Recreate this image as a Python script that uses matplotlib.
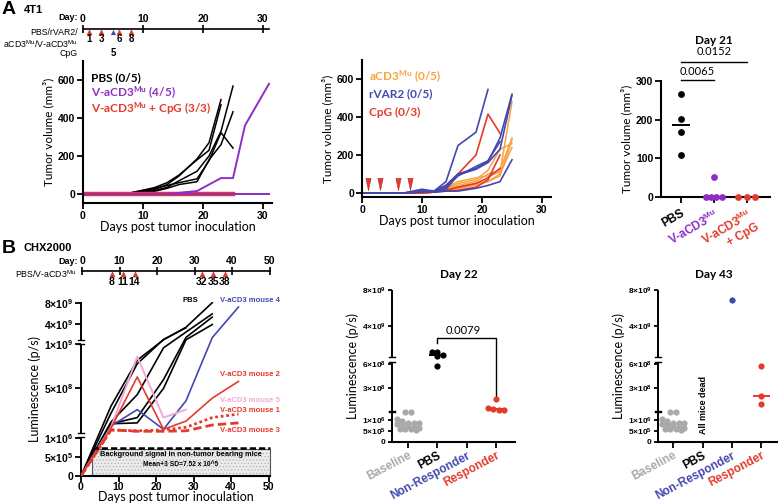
import numpy as np
import matplotlib
matplotlib.use("Agg")
import matplotlib.pyplot as plt
from matplotlib.patches import Rectangle
from matplotlib.path import Path
from matplotlib.transforms import blended_transform_factory as btf

plt.rcParams['mathtext.default'] = 'regular'
plt.rcParams['hatch.color'] = '#b8b8b8'
plt.rcParams['hatch.linewidth'] = 0.6
nan = np.nan

# ---------------- data ----------------
# Panel A (4T1) tumour volume, mm^3
a_days = [0, 7, 10, 12, 14, 16, 19, 21, 23, 25]
pbs_a = [
    [0, 0, 10, 20, 35, 70, 120, 200, 330, 568],
    [0, 0, 15, 25, 50, 95, 185, 270, 497, nan],
    [0, 0, 20, 30, 45, 60, 80, 175, 323, 242],
    [0, 0, 5, 15, 30, 50, 65, 180, 260, 433],
    [0, 0, 20, 35, 60, 100, 180, 230, 470, nan],
]
vacd3_days = [0, 14, 19, 23, 25, 27, 31]
vacd3_grow = [0, 0, 16, 84, 84, 361, 580]
vacd3_cured_days = [0, 31]
vacd3_cured = [[0, 0], [0, 0], [0, 0], [0, 0]]
cpg_combo_days = [0, 25]
cpg_combo = [[0, 0], [0, 0], [0, 0]]

acd3_a = [
    [0, 0, 0, 5, 20, 40, 60, 100, 120, 290],
    [0, 0, 0, 5, 25, 50, 70, 120, 230, 260],
    [0, 0, 5, 10, 30, 60, 80, 90, 110, 480],
    [0, 0, 0, 5, 20, 35, 50, 60, 100, 240],
    [0, 0, 0, 5, 15, 25, 40, 60, 90, 280],
]
rvar2_a = [
    [0, 0, 20, 10, 60, 250, 320, 545, nan, nan],
    [0, 0, 5, 10, 40, 100, 130, 165, 290, 520],
    [0, 0, 15, 5, 20, 95, 125, 160, 230, 515],
    [0, 0, 10, 5, 10, 10, 25, 40, 60, 175],
    [0, 0, 5, 10, 30, 90, 140, 170, 270, nan],
]
cpg_a = [
    [0, 0, 5, 10, 40, 100, 200, 415, 315, nan],
    [0, 0, 0, 5, 10, 15, 30, 70, 200, nan],
    [0, 0, 0, 5, 15, 30, 50, 80, 130, nan],
]
a_dose_days = [1, 3, 6, 8]
a_cpg_day = [5]
a2_arrow_level = [50, 50, 50, 50]

day21_groups = ['PBS', 'V-aCD3$^{Mu}$', 'V-aCD3$^{Mu}$\n+ CpG']
day21_pbs = [267, 202, 168, 109]
day21_vacd3 = [51, 0, 0, 0, 0]
day21_cpg = [0, 0, 0]
day21_p = ['0.0065', '0.0152']

# Panel B (CHX2000) luminescence, p/s
b_days = [0, 8, 15, 22, 28, 35, 42]
b_dose_days = [8, 11, 14, 32, 35, 38]
pbs_b = [
    [0, 3.0e8, 8.2e8, 1.05e9, 3.4e9, 8.0e9, nan],
    [0, 2.2e8, 7.8e8, 1.1e9, 3.3e9, nan, nan],
    [0, 1.2e8, 4.3e8, 9.6e8, 2.5e9, 5.9e9, nan],
    [0, 1.0e8, 1.7e8, 6.0e8, 1.5e9, 5.3e9, nan],
    [0, 1.0e8, 1.1e8, 5.0e8, 1.05e9, 3.9e9, nan],
]
mouse4 = [0, 7.5e7, 2.6e8, 3.7e7, 3.6e8, 1.45e9, 7.2e9]
mouse2 = [0, 5.0e7, 6.3e8, 3.7e7, 1.3e8, 3.9e8, 5.8e8]
mouse5 = [0, 6.0e7, 8.6e8, 1.7e8, 2.6e8, nan, nan]
mouse1 = [0, 3.0e7, 2.0e7, 3.0e7, 6.0e7, 1.7e8, 2.1e8]
mouse3 = [0, 3.0e7, 1.5e7, 1.5e7, 2.0e7, 8.6e7, 1.1e8]
background_thr = 7.52e5

lum_groups = ['Baseline', 'PBS', 'Non-Responder', 'Responder']
baseline = [1.38e6, 1.38e6, 1.05e6, 9.5e5, 9.0e5, 8.8e5, 8.6e5, 8.4e5,
            8.0e5, 7.5e5, 7.0e5, 6.5e5, 6.0e5, 6.0e5, 5.8e5, 5.5e5]
d22_pbs = [1.2e9, 1.15e9, 8.8e8, 7.2e8, 5.8e8]
d22_nonresp = []
d22_resp = [1.6e8, 4.0e7, 3.0e7, 2.5e7, 2.0e7]
d22_p = '0.0079'
d43_nonresp = [6.9e9]
d43_resp = [5.8e8, 1.94e8, 1.0e8]

# ---------------- styling ----------------
W, H = 778, 503
BLACK = '#000000'; PURPLE = '#8E2EC4'; RED = '#E43A2C'; ORANGE = '#F6A443'
BLUE = '#4447AE'; PINK = '#F3A9D6'; GRAY = '#A9A9A9'; DRED = '#B52A22'
FB = 'Liberation Sans'
FL = 'Lato'

fig = plt.figure(figsize=(W / 100, H / 100), dpi=100)


def box(l, t, r, b):
    return [l / W, 1 - b / H, (r - l) / W, (b - t) / H]


def T(x, y, s, **kw):
    kw.setdefault('va', 'center')
    return fig.text(x / W, 1 - y / H, s, **kw)


def style(ax, lw=1.5, size=7.5):
    for s in ['top', 'right']:
        ax.spines[s].set_visible(False)
    for s in ['left', 'bottom']:
        ax.spines[s].set_linewidth(lw)
    ax.tick_params(length=4, width=1.3, labelsize=size, pad=1.5)
    for lab in ax.get_xticklabels() + ax.get_yticklabels():
        lab.set_fontfamily(FB)
        lab.set_fontweight('bold')
    ax.patch.set_visible(False)


def make_scale(vals, pxs):
    vals = np.asarray(vals, float)
    pxs = np.asarray(pxs, float)
    s0 = (pxs[1] - pxs[0]) / (vals[1] - vals[0])
    s1 = (pxs[-1] - pxs[-2]) / (vals[-1] - vals[-2])
    v = np.concatenate([[vals[0] - 1e12], vals, [vals[-1] + 1e12]])
    p = np.concatenate([[pxs[0] - 1e12 * s0], pxs, [pxs[-1] + 1e12 * s1]])
    return (lambda y: np.interp(np.asarray(y, float), v, p),
            lambda q: np.interp(np.asarray(q, float), p, v))


def swarm(ax, xc, vals, color, d=6.2, s=22, zorder=3):
    vals = np.asarray(vals, float)
    if len(vals) == 0:
        return
    pts = ax.transData.transform(np.column_stack([np.full(len(vals), xc), vals]))
    ys = pts[:, 1]
    ppu = ax.transData.transform((1, 0))[0] - ax.transData.transform((0, 0))[0]
    order = np.argsort(-ys)
    rows = []
    for i in order:
        if rows and abs(ys[rows[-1][0]] - ys[i]) < d * 0.75:
            rows[-1].append(i)
        else:
            rows.append([i])
    xs = np.zeros(len(vals))
    for r in rows:
        n = len(r)
        for k, i in enumerate(r):
            xs[i] = xc + (k - (n - 1) / 2) * d / ppu
    ax.scatter(xs, vals, s=s, color=color, zorder=zorder, clip_on=False, lw=0)


def median_line(ax, xc, vals, color, hw=0.3, lw=1.4):
    if len(vals):
        ax.plot([xc - hw, xc + hw], [np.median(vals)] * 2, color=color, lw=lw,
                zorder=4, clip_on=False, solid_capstyle='butt')


def broken_spine(ax, segs, axw, lw=1.4):
    ax.spines['left'].set_visible(False)
    tr = btf(ax.transAxes, ax.transData)
    cw = 2.8 / axw
    for i, (a, b) in enumerate(segs):
        ax.plot([0, 0], [a, b], color='k', lw=lw, transform=tr, clip_on=False,
                solid_capstyle='butt')
        if i > 0:
            ax.plot([-cw, cw], [a, a], color='k', lw=1.0, transform=tr, clip_on=False)
        if i < len(segs) - 1:
            ax.plot([-cw, cw], [b, b], color='k', lw=1.0, transform=tr, clip_on=False)


def timeline(l, r, yc, xmax, ticks):
    ax = fig.add_axes(box(l, yc - 10, r, yc + 10))
    ax.set_xlim(0, xmax)
    ax.set_ylim(-1, 1)
    for s in ['left', 'right', 'bottom']:
        ax.spines[s].set_visible(False)
    ax.spines['top'].set_position(('data', 0))
    ax.spines['top'].set_linewidth(1.2)
    ax.xaxis.set_ticks_position('top')
    ax.set_xticks(ticks)
    ax.set_yticks([])
    ax.tick_params(axis='x', direction='inout', length=6, width=1.2, pad=0.5,
                   labelsize=7.5)
    for lab in ax.get_xticklabels():
        lab.set_fontfamily(FB)
        lab.set_fontweight('bold')
    ax.patch.set_visible(False)
    return ax


tri_down = Path([(-0.42, 1), (0.42, 1), (0, -1), (-0.42, 1)],
                [Path.MOVETO, Path.LINETO, Path.LINETO, Path.CLOSEPOLY])

# ---------------- panel letters ----------------
T(2, 9, 'A', fontsize=14, fontweight='bold', family=FB)
T(24, 10, '4T1', fontsize=8, fontweight='bold', family=FB)
T(2, 248, 'B', fontsize=14, fontweight='bold', family=FB)
T(23, 248, 'CHX2000', fontsize=8, fontweight='bold', family=FB)

# ---------------- timeline A ----------------
tA = timeline(83, 269, 29, 31, [0, 10, 20, 30])
tA.scatter(a_dose_days, [-0.25] * 4, marker='^', s=14, color=RED, edgecolor=DRED,
           lw=0.3, clip_on=False, zorder=3)
tA.scatter(a_cpg_day, [-0.25], marker='^', s=14, color=BLUE, lw=0, clip_on=False, zorder=3)
for d in a_dose_days:
    tA.text(d, -1.0, str(d), ha='center', va='center', fontsize=7, fontweight='bold', family=FB)
tA.text(a_cpg_day[0], -2.4, str(a_cpg_day[0]), ha='center', va='center', fontsize=7,
        fontweight='bold', family=FB)
T(78, 17, 'Day:', ha='right', fontsize=6.5, fontweight='bold', family=FB)
T(78, 32.5, 'PBS/rVAR2/', ha='right', fontsize=6.3, family=FB)
T(78, 44, 'aCD3$^{Mu}$/V-aCD3$^{Mu}$', ha='right', fontsize=6.3, family=FB)
T(78, 53, 'CpG', ha='right', fontsize=6.3, family=FB)

# ---------------- A1 ----------------
a1 = fig.add_axes(box(83, 61, 272, 203))
a1.set_xlim(0, 31.5)
a1.set_ylim(-47, 700)
a1.set_xticks([0, 10, 20, 30])
a1.set_yticks([0, 200, 400, 600])
style(a1)
for y in pbs_a:
    a1.plot(a_days, y, color=BLACK, lw=1.1)
for y in cpg_combo:
    a1.plot(cpg_combo_days, y, color=RED, lw=3)
for y in vacd3_cured:
    a1.plot(vacd3_cured_days, y, color=PURPLE, lw=1.4)
a1.plot(vacd3_days, vacd3_grow, color=PURPLE, lw=1.4)
a1.set_ylabel('Tumor volume (mm³)', family=FL, fontsize=8.5, labelpad=3)
a1.set_xlabel('Days post tumor inoculation', family=FL, fontsize=9, labelpad=0)
T(91, 78, 'PBS (0/5)', fontsize=8.5, fontweight='bold', family=FL, color=BLACK)
T(91, 93, 'V-aCD3$^{Mu}$ (4/5)', fontsize=8.5, fontweight='bold', family=FL, color=PURPLE)
T(91, 109, 'V-aCD3$^{Mu}$ + CpG (3/3)', fontsize=8.5, fontweight='bold', family=FL, color=RED)

# ---------------- A2 ----------------
a2 = fig.add_axes(box(362, 60, 551, 197))
a2.set_xlim(0, 31.5)
a2.set_ylim(-21, 700)
a2.set_xticks([0, 10, 20, 30])
a2.set_yticks([0, 200, 400, 600])
style(a2)
for y in acd3_a:
    a2.plot(a_days, y, color=ORANGE, lw=1.1)
for y in cpg_a:
    a2.plot(a_days, y, color=RED, lw=1.2)
for y in rvar2_a:
    a2.plot(a_days, y, color=BLUE, lw=1.2)
a2.scatter(a_dose_days, a2_arrow_level, marker=tri_down, s=80, color=RED,
           edgecolor=DRED, lw=0.4, zorder=4)
a2.set_ylabel('Tumor volume (mm³)', family=FL, fontsize=8.5, labelpad=3)
a2.set_xlabel('Days post tumor inoculation', family=FL, fontsize=9, labelpad=0)
T(369, 77, 'aCD3$^{Mu}$ (0/5)', fontsize=8.5, fontweight='bold', family=FL, color=ORANGE)
T(369, 94, 'rVAR2 (0/5)', fontsize=8.5, fontweight='bold', family=FL, color=BLUE)
T(369, 112, 'CpG (0/3)', fontsize=8.5, fontweight='bold', family=FL, color=RED)

# ---------------- A3 ----------------
a3 = fig.add_axes(box(661, 81, 770, 197))
a3.set_xlim(-0.6, 2.7)
a3.set_ylim(0, 300)
a3.set_yticks([0, 100, 200, 300])
a3.set_xticks([0, 1, 2])
a3.set_xticklabels(day21_groups)
style(a3)
a3.tick_params(axis='x', pad=3)
for lab, c in zip(a3.get_xticklabels(), [BLACK, PURPLE, RED]):
    lab.set_color(c)
    lab.set_rotation(30)
    lab.set_ha('right')
    lab.set_va('top')
    lab.set_rotation_mode('anchor')
    lab.set_multialignment('right')
    lab.set_fontsize(8.5)
swarm(a3, 0, day21_pbs, BLACK, d=6.2, s=24)
swarm(a3, 1, day21_vacd3, PURPLE, d=5.2, s=24)
swarm(a3, 2, day21_cpg, RED, d=8.5, s=24)
median_line(a3, 0, day21_pbs, BLACK, hw=0.27)
a3.plot([0, 1], [303, 303], color='k', lw=1.0, clip_on=False)
a3.plot([0, 2], [349, 349], color='k', lw=1.0, clip_on=False)
a3.text(0.5, 324, day21_p[0], ha='center', va='center', fontsize=8, family=FL)
a3.text(1.0, 376, day21_p[1], ha='center', va='center', fontsize=8, family=FL)
a3.set_ylabel('Tumor volume (mm³)', family=FL, fontsize=8.5, labelpad=3)
T(714, 40, 'Day 21', ha='center', fontsize=8.5, fontweight='bold', family=FL)

# ---------------- timeline B ----------------
tB = timeline(82, 269.5, 271, 50, [0, 10, 20, 30, 40, 50])
tB.scatter(b_dose_days, [-0.25] * len(b_dose_days), marker='^', s=14, color=RED,
           edgecolor=DRED, lw=0.3, clip_on=False, zorder=3)
for d in b_dose_days:
    tB.text(d, -1.1, str(d), ha='center', va='center', fontsize=7.5, fontweight='bold', family=FB)
T(78, 262, 'Day:', ha='right', fontsize=6.5, fontweight='bold', family=FB)
T(76, 274, 'PBS/V-aCD3$^{Mu}$', ha='right', fontsize=6.3, family=FB)

# ---------------- B1 ----------------
fwd1, inv1 = make_scale([0, 1.05e6, 1.06e6, 1e9, 1.01e9, 8e9],
                        [0, 39.5, 43.5, 131.7, 136, 173.3])
ytop1 = 8.2e9
b1_bottom = 476
b1 = fig.add_axes(box(81, b1_bottom - fwd1(ytop1), 270, b1_bottom))
b1.set_yscale('function', functions=(fwd1, inv1))
b1.set_xlim(0, 50.4)
b1.set_ylim(0, ytop1)
b1.set_xticks([0, 10, 20, 30, 40, 50])
b1.set_yticks([0, 5e5, 1e6, 5e8, 1e9, 4e9, 8e9])
b1.set_yticklabels(['0', '5×10$^{5}$', '1×10$^{6}$', '5×10$^{8}$', '1×10$^{9}$',
                    '4×10$^{9}$', '8×10$^{9}$'])
style(b1, size=7.5)
b1.tick_params(axis='x', pad=0.5)
b1.yaxis.set_minor_locator(matplotlib.ticker.NullLocator())
broken_spine(b1, [(0, 1.05e6), (1.06e6, 1e9), (1.01e9, ytop1)], 189)
b1.add_patch(Rectangle((3, 0), 47.4, 7.1e5, facecolor='#ececec', edgecolor='#b8b8b8',
                       lw=0, hatch='.....', zorder=1, clip_on=False))
b1.add_patch(Rectangle((3, 0), 47.4, 7.1e5, fill=False, edgecolor='#555555', lw=0.8,
                       zorder=1.5, clip_on=False))
for y in pbs_b:
    b1.plot(b_days, y, color=BLACK, lw=1.2, zorder=3)
b1.plot(b_days, mouse4, color=BLUE, lw=1.2, zorder=3)
b1.plot(b_days, mouse5, color=PINK, lw=1.4, zorder=3)
b1.plot(b_days, mouse2, color=RED, lw=1.2, zorder=3)
b1.plot(b_days, mouse1, color=RED, lw=2.0, ls=(0, (1, 1)), zorder=3)
b1.plot(b_days, mouse3, color=RED, lw=2.0, ls=(0, (3, 1.5)), zorder=3)
b1.plot([3, 50.4], [background_thr] * 2, color='k', lw=1.8, ls=(0, (2.5, 1.2)), zorder=4,
        clip_on=False)
b1.set_ylabel('Luminescence (p/s)', family=FL, fontsize=9, labelpad=2)
b1.set_xlabel('Days post tumor inoculation', family=FL, fontsize=9, labelpad=-1)
T(181, 454, 'Background signal in non-tumor bearing mice', ha='center', fontsize=5.3,
  fontweight='bold', family=FB)
T(181, 465, 'Mean+3 SD=7.52 x 10^5', ha='center', fontsize=4.8, fontweight='bold', family=FB)
T(190, 300, 'PBS', ha='center', fontsize=5.5, fontweight='bold', family=FB)
T(220, 300, 'V-aCD3 mouse 4', fontsize=5.5, fontweight='bold', family=FB, color=BLUE)
T(220, 374, 'V-aCD3 mouse 2', fontsize=5.5, fontweight='bold', family=FB, color=RED)
T(220, 401, 'V-aCD3 mouse 5', fontsize=5.5, fontweight='bold', family=FB, color=PINK)
T(220, 410, 'V-aCD3 mouse 1', fontsize=5.5, fontweight='bold', family=FB, color=RED)
T(220, 431, 'V-aCD3 mouse 3', fontsize=5.5, fontweight='bold', family=FB, color=RED)

# ---------------- B2 / B3 ----------------
fwd2, inv2 = make_scale([0, 1.4e6, 1.45e6, 6.2e8, 6.3e8, 8e9],
                        [0, 30.3, 30.6, 79.6, 85.0, 152.3])
b_ticks = [0, 5e5, 1e6, 3e8, 6e8, 4e9, 8e9]
b_ticklabels = ['0', '5×10$^{5}$', '1×10$^{6}$', '3×10$^{8}$', '6×10$^{8}$',
                '4×10$^{9}$', '8×10$^{9}$']
lum_colors = [GRAY, BLACK, BLUE, RED]


def lum_axes(l, r, xlim, title, tx):
    base = 442
    ax = fig.add_axes(box(l, base - fwd2(8e9), r, base))
    ax.set_yscale('function', functions=(fwd2, inv2))
    ax.set_ylim(0, 8e9)
    ax.set_xlim(*xlim)
    ax.set_yticks(b_ticks)
    ax.set_yticklabels(b_ticklabels)
    ax.set_xticks(range(4))
    ax.set_xticklabels(lum_groups)
    style(ax, size=6)
    ax.yaxis.set_minor_locator(matplotlib.ticker.NullLocator())
    ax.tick_params(axis='y', length=3)
    for lab, c in zip(ax.get_xticklabels(), lum_colors):
        lab.set_color(c)
        lab.set_rotation(28)
        lab.set_ha('right')
        lab.set_va('top')
        lab.set_rotation_mode('anchor')
        lab.set_fontsize(8.5)
    broken_spine(ax, [(0, 1.4e6), (1.45e6, 6.2e8), (6.3e8, 8e9)], r - l)
    ax.set_ylabel('Luminescence (p/s)', family=FL, fontsize=9, labelpad=2)
    T(tx, 275, title, ha='center', fontsize=8.5, fontweight='bold', family=FL)
    return ax


b2 = lum_axes(392, 515, (-0.546, 3.65), 'Day 22', 459)
swarm(b2, 0, baseline, GRAY, d=5.6, s=20)
swarm(b2, 1, d22_pbs, BLACK, d=5.6, s=20)
swarm(b2, 2, d22_nonresp, BLUE, d=5.6, s=20)
swarm(b2, 3, d22_resp, RED, d=5.6, s=20)
median_line(b2, 0, baseline, GRAY, hw=0.34)
median_line(b2, 1, d22_pbs, BLACK)
median_line(b2, 3, d22_resp, RED)
yb = float(inv2(442 - 338.3))
b2.plot([1, 1, 3, 3], [float(inv2(442 - 343)), yb, yb, float(inv2(442 - 396.7))],
        color='k', lw=1.0, clip_on=False)
b2.text(1.9, float(inv2(442 - 331)), d22_p, ha='center', va='center', fontsize=8, family=FL)

b3 = lum_axes(658, 778, (-0.51, 3.56), 'Day 43', 714)
swarm(b3, 0, baseline, GRAY, d=5.6, s=20)
swarm(b3, 2, d43_nonresp, BLUE, d=5.6, s=20)
swarm(b3, 3, d43_resp, RED, d=5.6, s=20)
median_line(b3, 0, baseline, GRAY, hw=0.34)
median_line(b3, 3, d43_resp, RED)
b3.text(1.05, float(inv2(442 - 405)), 'All mice dead', rotation=90, ha='center',
        va='center', fontsize=6.5, fontweight='bold', family=FB)

fig.savefig('out.png', dpi=100)
